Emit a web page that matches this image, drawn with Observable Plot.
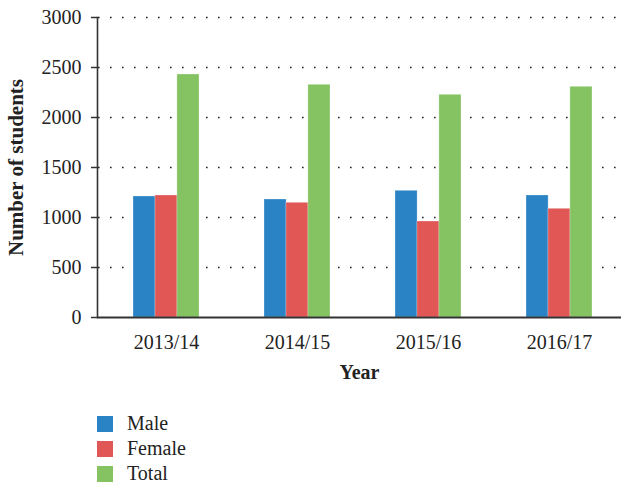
<!DOCTYPE html>
<html>
<head>
<meta charset="utf-8">
<script src="https://cdn.jsdelivr.net/npm/d3@7"></script>
<script src="https://cdn.jsdelivr.net/npm/@observablehq/plot@0.6"></script>
<style>
  body { margin: 0; background: #fff; font-family: "Liberation Serif", serif; }
  #chart svg text { font-family: "Liberation Serif", serif; }
  #legend { margin-left: 97px; margin-top: 16px; font-size: 20px; color: #222; }
  .row { display: flex; align-items: center; height: 25px; }
  .sw { width: 16px; height: 16px; margin-right: 14px; }
</style>
</head>
<body>
<div id="chart"></div>
<div id="legend"></div>
<script>
const years = ["2013/14", "2014/15", "2015/16", "2016/17"];
const seriesNames = ["Male", "Female", "Total"];
const male = [1210, 1180, 1267, 1220];
const female = [1220, 1147, 960, 1087];
const total = [2430, 2327, 2227, 2307];
const yTicks = [0, 500, 1000, 1500, 2000, 2500, 3000];
const colors = ["#2a83c4", "#e05756", "#85c262"];

const values = [male, female, total];
const data = years.flatMap((yr, i) => seriesNames.map((s, j) => ({year: yr, series: s, value: values[j][i]})));

const bandW = 131.7 * 0.5;
const barW = bandW / 3;

const barMarks = seriesNames.map((s, j) =>
  Plot.barY(data.filter(d => d.series === s), {
    x: "year", y: "value", fill: colors[j],
    stroke: "#ffffff", strokeOpacity: 0.35, strokeWidth: 0.8,
    insetLeft: barW * j, insetRight: barW * (2 - j)
  })
);

const ff = "Liberation Serif";
const chart = Plot.plot({
  width: 621,
  height: 395,
  marginLeft: 97,
  marginRight: 0,
  marginTop: 17,
  marginBottom: 78,
  style: {fontFamily: ff, fontSize: "20px", color: "#222", background: "#fff"},
  x: {domain: years, range: [97.8, 626.2], paddingInner: 0.5, paddingOuter: 0.256, align: 0.5},
  y: {domain: [0, 3000]},
  marks: [
    Plot.ruleY(yTicks.slice(1), {stroke: "#222", strokeWidth: 1.6, strokeDasharray: "1.6,10.4", strokeDashoffset: -1}),
    ...barMarks,
    Plot.axisY(yTicks, {tickSize: 6, tickPadding: 10, tickFormat: d => String(d), stroke: "#333", strokeWidth: 1.5, label: null, fill: "#222", fontFamily: ff}),
    Plot.axisY({ticks: [], label: "Number of students", labelArrow: "none", labelAnchor: "center", labelOffset: 89, fontWeight: "bold", fontSize: 21, fill: "#222", fontFamily: ff}),
    Plot.axisX({tickSize: 0, tickPadding: 17, label: null, fill: "#222", fontFamily: ff}),
    Plot.axisX({ticks: [], label: "Year", labelArrow: "none", labelAnchor: "center", labelOffset: 61, fontWeight: "bold", fill: "#222", fontFamily: ff}),
    Plot.frame({anchor: "left", stroke: "#333", strokeWidth: 1.6}),
    Plot.ruleY([0], {stroke: "#333", strokeWidth: 2})
  ]
});
document.getElementById("chart").appendChild(chart);

const legend = document.getElementById("legend");
seriesNames.forEach((s, j) => {
  const row = document.createElement("div");
  row.className = "row";
  row.innerHTML = `<div class="sw" style="background:${colors[j]}"></div><span>${s}</span>`;
  legend.appendChild(row);
});
</script>
</body>
</html>
